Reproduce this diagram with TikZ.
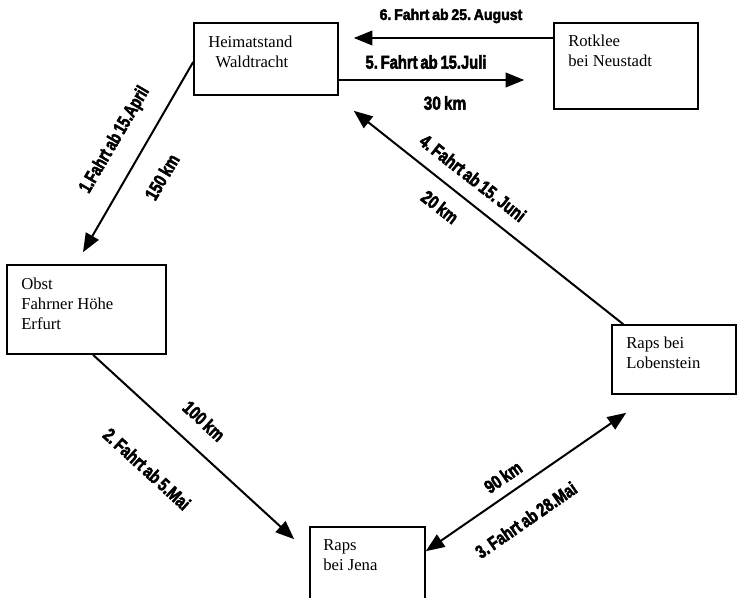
\documentclass[tikz,border=0pt]{standalone}
\usepackage{fontspec}
\usepackage{graphicx}
\setmainfont{Liberation Serif}
\newfontfamily\labfont{Liberation Sans}[FakeBold=3,WordSpace=0.7]
\newcommand\sqz[2]{\scalebox{#1}[1]{#2}}
\usetikzlibrary{arrows.meta}
\frenchspacing
\begin{document}
\begin{tikzpicture}[x=0.75pt,y=-0.75pt,
  box/.style={draw,line width=1.2pt,inner sep=0pt,rectangle},
  txt/.style={anchor=north west,align=left,inner sep=0pt,font=\fontsize{12.5}{15}\selectfont},
  lab/.style={inner sep=0pt,font=\labfont\bfseries\fontsize{14}{16}\selectfont},
  labs/.style={inner sep=0pt,font=\labfont\bfseries\fontsize{11.5}{14}\selectfont},
  arr/.style={line width=1.5pt,-{Triangle[length=14pt,width=11pt]}},
  darr/.style={line width=1.5pt,{Triangle[length=14pt,width=11pt]}-{Triangle[length=14pt,width=11pt]}}]
\useasboundingbox (0,0) rectangle (737,598);
% boxes
\node[box,minimum width=108pt,minimum height=54pt] (heim) at (266,59) {};
\node[box,minimum width=108pt,minimum height=64.5pt] (rot) at (626,66) {};
\node[box,minimum width=119.25pt,minimum height=66.75pt] (obst) at (86.5,309.5) {};
\node[box,minimum width=86.25pt,minimum height=62.25pt] (jena) at (367.5,568.5) {};
\node[box,minimum width=93pt,minimum height=51.75pt] (lob) at (674,359.5) {};
% box texts
\node[txt] (theim) at (208,35.6) {Heimatstand\\\hspace*{5.5pt}Waldtracht};
\node[txt] (trot) at (568,34.6) {Rotklee\\bei Neustadt};
\node[txt] (tobst) at (21,277.6) {Obst\\Fahrner Höhe\\Erfurt};
\node[txt] (tjena) at (323,539) {Raps\\bei Jena};
\node[txt] (tlob) at (626,336.6) {Raps bei\\Lobenstein};
% connectors
\draw[arr] ([shift={(0,3)}]heim.west) -- ([shift={(-3.5,-12)}]obst.north);
\draw[arr] ([shift={(6.5,0)}]obst.south) -- ([shift={(-15,13)}]jena.north west);
\draw[darr] ([shift={(0,25)}]jena.north east) -- ([shift={(15,18)}]lob.south west);
\draw[arr] ([shift={(12,0)}]lob.north west) -- ([shift={(15,15)}]heim.south east);
\draw[arr] ([shift={(0,21)}]heim.east) -- ([shift={(-29,14)}]rot.west);
\draw[arr] ([shift={(0,-28)}]rot.west) -- ([shift={(15,-21)}]heim.east);
% labels
\node[labs] (l6) at (451,16) {\sqz{0.92}{6. Fahrt ab 25. August}};
\node[lab] (l5) at (426,62) {\sqz{0.79}{5. Fahrt ab 15.Juli}};
\node[lab] (l30) at (445,103) {\sqz{0.83}{30 km}};
\node[lab,rotate=-38] (l4) at (473,178) {\sqz{0.79}{4. Fahrt ab 15. Juni}};
\node[lab,rotate=-38] (l20) at (440,207) {\sqz{0.8}{20 km}};
\node[lab,rotate=59.6] (l1) at (115,140) {\sqz{0.75}{1.Fahrt ab 15.April}};
\node[lab,rotate=59.6] (l150) at (162,177) {\sqz{0.8}{150 km}};
\node[lab,rotate=-42.6] (l100) at (204,421) {\sqz{0.8}{100 km}};
\node[lab,rotate=-42.6] (l2) at (147,469) {\sqz{0.78}{2. Fahrt ab 5.Mai}};
\node[lab,rotate=34.7] (l90) at (503,477) {\sqz{0.8}{90 km}};
\node[lab,rotate=34.7] (l3) at (526,520) {\sqz{0.78}{3. Fahrt ab 28.Mai}};
\end{tikzpicture}
\end{document}
